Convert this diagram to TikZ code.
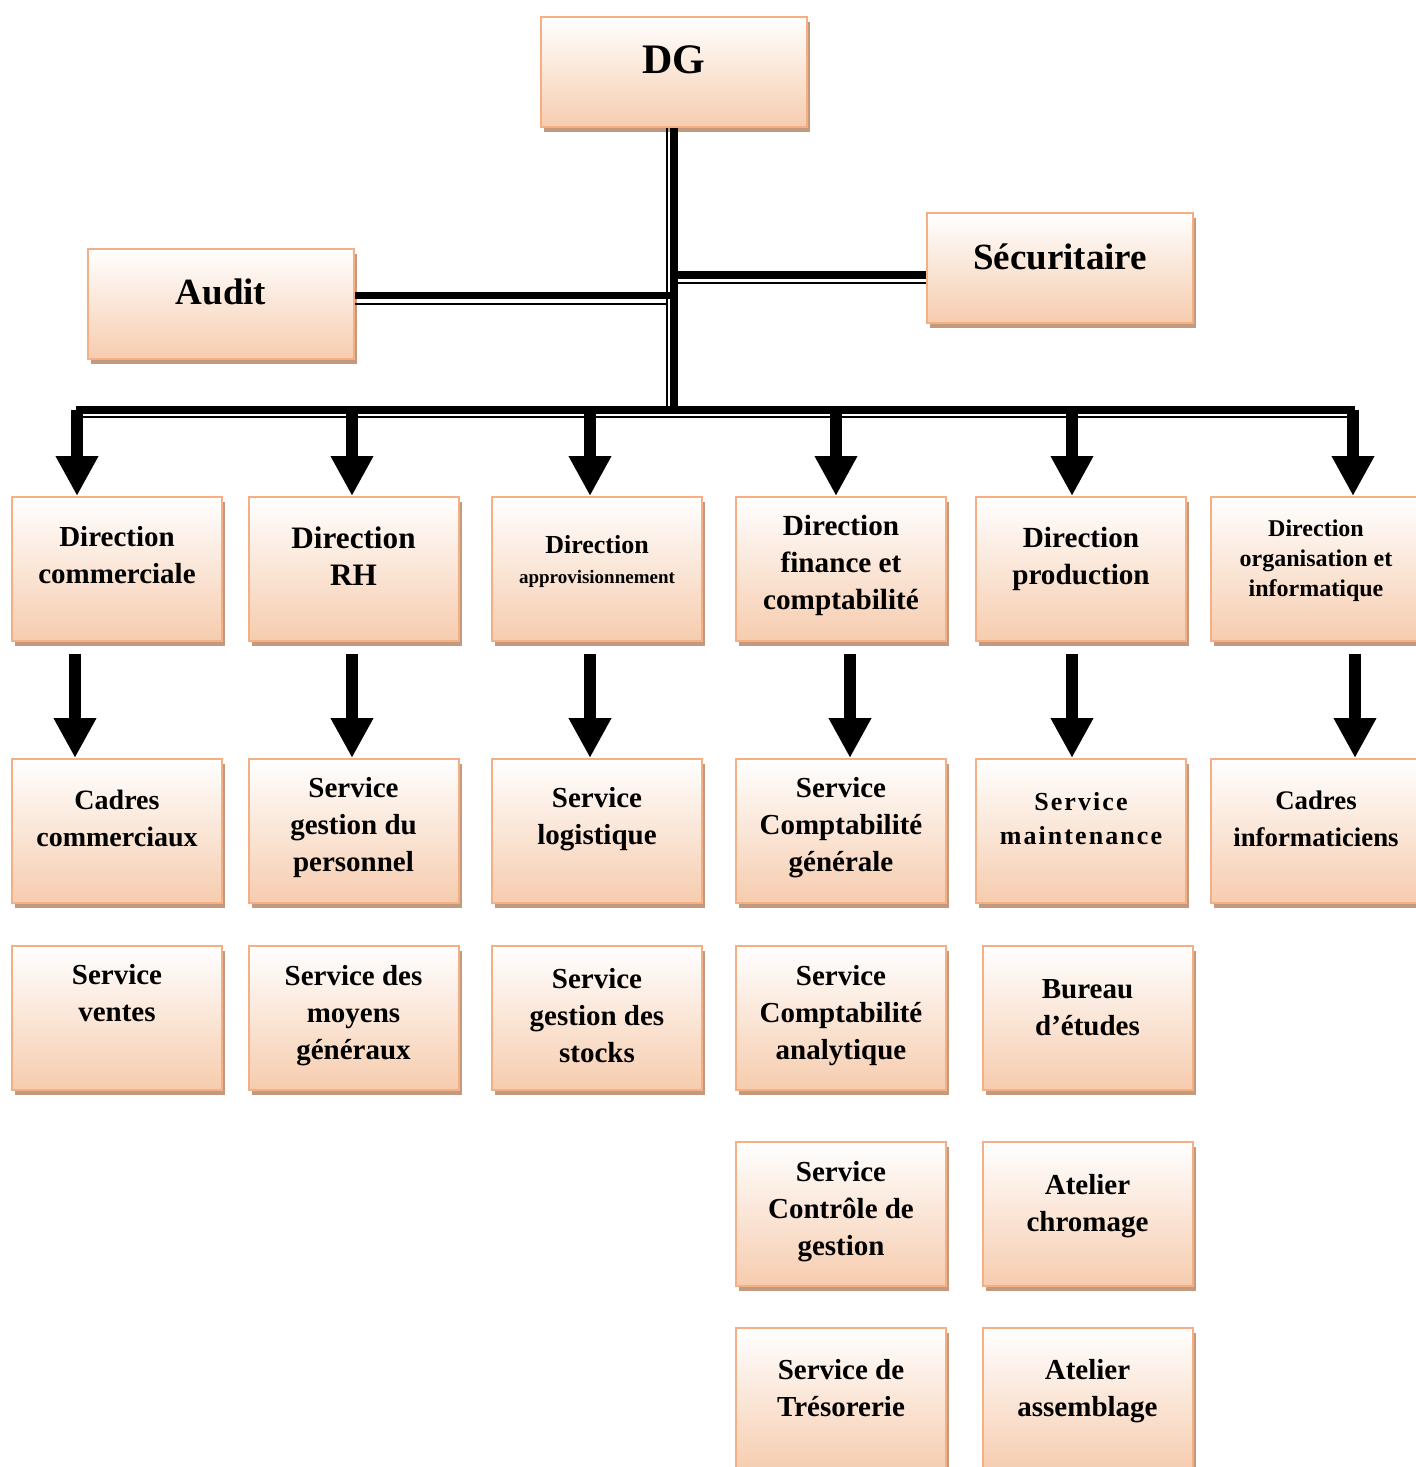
\documentclass[tikz,border=0pt]{standalone}
\usepackage{fontspec}
\setmainfont{Liberation Serif}
\usetikzlibrary{arrows.meta,shadows}

\definecolor{boxline}{RGB}{244,176,132}
\definecolor{boxfill}{RGB}{246,204,174}
\definecolor{boxshadow}{RGB}{196,153,126}

\tikzset{
    orgbox/.style={draw=boxline, line width=1pt, top color=white, bottom color=boxfill,
        minimum width=105pt, minimum height=72pt,
        general shadow={fill=boxshadow, shadow xshift=1.5pt, shadow yshift=-2.5pt}},
    bigbox/.style={orgbox, minimum width=133pt, minimum height=55pt},
    boxtext/.style={align=center, font=\bfseries\fontsize{14.5}{18.5}\selectfont},
    thickline/.style={line width=3.75pt},
    thinline/.style={line width=1pt},
    bigarrow/.style={line width=6pt, -{Triangle[width=20pt,length=20pt]}}
}

\begin{document}
\begin{tikzpicture}[x=0.5pt, y=-0.5pt]
    \useasboundingbox[fill=white] (0,0) rectangle (1416,1467);

    % top boxes
    \node[bigbox] (dg) at (674,72) {};
    \node[boxtext, font=\bfseries\fontsize{21}{25}\selectfont] (dg-t) at ([yshift=6pt]dg.center) {DG};
    \node[bigbox] (audit) at (221,304) {};
    \node[boxtext, font=\bfseries\fontsize{18.5}{22}\selectfont] (audit-t) at ([yshift=6pt]audit.center) {Audit};
    \node[bigbox] (sec) at (1060,268) {};
    \node[boxtext, font=\bfseries\fontsize{18.5}{22}\selectfont] (sec-t) at ([yshift=5.5pt]sec.center) {Sécuritaire};

    % directions and services
    \foreach \n/\x/\y/\sh/\fs/\txt in {d1/117/569/6.75pt/14.5/{Direction\\commerciale},
        d2/353.5/569/6.5pt/15.6/{Direction\\RH}, d4/841/569/1.75pt/14.6/{Direction\\finance et\\comptabilité},
        d5/1081/569/5pt/14.6/{Direction\\production},
        s1/117/831/6.25pt/14/{Cadres\\commerciaux}, s2/353.5/831/1.5pt/14.5/{Service\\gestion du\\personnel},
        s3/597/831/6pt/14.5/{Service\\logistique}, s4/841/831/1.5pt/14.5/{Service\\Comptabilité\\générale},
        s6/1316/831/6pt/13.4/{Cadres\\informaticiens},
        t1/117/1018/12.25pt/14.5/{Service\\ventes}, t2/353.5/1018/1pt/14.5/{Service des\\moyens\\généraux},
        t3/597/1018/1pt/14.5/{Service\\gestion des\\stocks}, t4/841/1018/1pt/14.5/{Service\\Comptabilité\\analytique},
        t5/1087.5/1018/5pt/14.5/{Bureau\\d’études},
        u4/841/1214/1pt/14.5/{Service\\Contrôle de\\gestion}, u5/1087.5/1214/4pt/14.5/{Atelier\\chromage},
        v4/841/1400/6pt/14.5/{Service de\\Trésorerie}, v5/1087.5/1400/4.5pt/14.5/{Atelier\\assemblage}}
    {
        \node[orgbox] (\n) at (\x,\y) {};
        \node[boxtext, font=\bfseries\fontsize{\fs}{18.5}\selectfont] (\n-t) at ([yshift=\sh]\n.center) {\txt};
    }

    \node[orgbox] (d3) at (597,569) {};
    \node[boxtext, font=\bfseries\fontsize{13}{15}\selectfont] (d3-t) at ([yshift=4pt]d3.center)
        {Direction\\{\fontsize{9.5}{15}\selectfont approvisionnement}};
    \node[orgbox] (d6) at (1316,569) {};
    \node[boxtext, font=\bfseries\fontsize{12}{15}\selectfont] (d6-t) at ([yshift=4pt]d6.center)
        {Direction\\organisation et\\informatique};
    \node[orgbox] (s5) at (1081,831) {};
    \node[boxtext, font=\bfseries\fontsize{13}{17}\selectfont\addfontfeature{LetterSpace=8}] (s5-t)
        at ([yshift=6pt]s5.center) {Service\\maintenance};

    % lines
    \coordinate (busL) at (76,410);
    \coordinate (busR) at (1355,410);
    \coordinate (hub) at (dg.south |- busL);
    \draw[thickline] (dg.south) -- (hub);
    \draw[thinline] ([xshift=-3.6pt]dg.south) -- ([xshift=-3.6pt]hub);
    \draw[thickline] ([yshift=4.25pt]audit.east) -- ([yshift=4.25pt]audit.east -| dg.south);
    \draw[thinline] (audit.east) -- ([xshift=-3.6pt]audit.east -| dg.south);
    \draw[thickline] ([yshift=-3.5pt]sec.west) -- ([yshift=-3.5pt]sec.west -| dg.south);
    \draw[thinline] ([yshift=-7.5pt]sec.west) -- ([yshift=-7.5pt]sec.west -| dg.south);
    \draw[thickline] (busL) -- (busR);
    \draw[thinline] ([yshift=-3.5pt]busL) -- ([yshift=-3.5pt]busR);

    % arrows
    \foreach \n/\ax in {d1/77, d2/352, d3/590, d4/836, d5/1072, d6/1353}
        \draw[bigarrow] (busL -| \ax,0) -- (\n.north -| \ax,0);
    \foreach \a/\b/\ax in {d1/s1/75, d2/s2/352, d3/s3/590, d4/s4/850, d5/s5/1072, d6/s6/1355}
        \draw[bigarrow] (\a.south -| \ax,0) ++(0,12) -- (\b.north -| \ax,0);
\end{tikzpicture}
\end{document}
